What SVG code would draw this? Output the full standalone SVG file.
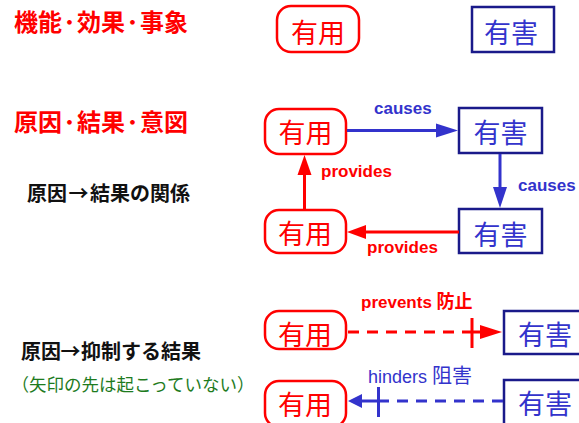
<svg xmlns="http://www.w3.org/2000/svg" width="579" height="423" viewBox="0 0 579 423">
<style>
.h{font-family:"Noto Sans CJK JP","Noto Sans CJK SC",sans-serif;font-weight:bold;font-size:24px;fill:#ff0000}
.b{font-family:"Noto Sans CJK JP","Noto Sans CJK SC",sans-serif;font-weight:bold;fill:#111}
.g{font-family:"Noto Sans CJK JP","Noto Sans CJK SC",sans-serif;font-size:17.5px;fill:#1e7b1e}
.u rect{fill:#fff;stroke:#ff0000;stroke-width:2.5}
.u text{fill:#ff0000}
.x rect{fill:#fff;stroke:#1a1a8a;stroke-width:2.5}
.x text{fill:#3333cc}
.n{font-family:"Noto Sans CJK JP","Noto Sans CJK SC",sans-serif;font-size:27px;text-anchor:middle}
.lb{font-family:"Liberation Sans","Noto Sans CJK JP",sans-serif;font-weight:bold;font-size:17px}
.red{stroke:#ff0000;stroke-width:3;fill:none}
.blu{stroke:#3333cc;stroke-width:3;fill:none}
.dash{stroke-dasharray:11 8}
</style>
<rect width="579" height="423" fill="#fff"/>
<g id="labels">
<text class="h" y="31"><tspan x="14">機能</tspan><tspan x="63.5">･</tspan><tspan x="77">効果</tspan><tspan x="126.5">･</tspan><tspan x="140">事象</tspan></text>
<text class="h" y="131"><tspan x="14">原因</tspan><tspan x="63.5">･</tspan><tspan x="77">結果</tspan><tspan x="126.5">･</tspan><tspan x="140">意図</tspan></text>
<text class="b" y="201" font-size="20"><tspan x="27">原因</tspan><tspan x="78.5" text-anchor="middle">→</tspan><tspan x="90">結果の関係</tspan></text>
<text class="b" y="359" font-size="20"><tspan x="21">原因</tspan><tspan x="70.5" text-anchor="middle">→</tspan><tspan x="81">抑制する結果</tspan></text>
<text class="g" x="11.5" y="391">（矢印の先は起こっていない）</text>
</g>
<g id="n1u" class="u"><rect x="277" y="6" width="82" height="46" rx="14"/><text class="n" x="318" y="43">有用</text></g>
<g id="n1h" class="x"><rect x="472" y="7" width="82" height="45"/><text class="n" x="511" y="42.5">有害</text></g>
<g id="n2u" class="u"><rect x="265" y="109" width="81" height="45" rx="14"/><text class="n" x="305.5" y="143">有用</text></g>
<g id="n2h" class="x"><rect x="459" y="108" width="83" height="45"/><text class="n" x="500.5" y="143">有害</text></g>
<g id="n3u" class="u"><rect x="265" y="210" width="81" height="43" rx="14"/><text class="n" x="305" y="244">有用</text></g>
<g id="n3h" class="x"><rect x="459" y="209" width="83" height="44"/><text class="n" x="500.5" y="244.5">有害</text></g>
<g id="n4u" class="u"><rect x="265" y="311" width="81" height="38" rx="14"/><text class="n" x="305" y="344.5">有用</text></g>
<g id="n4h" class="x"><rect x="504" y="311" width="82" height="43"/><text class="n" x="545" y="345">有害</text></g>
<g id="n5u" class="u"><rect x="265" y="381" width="81" height="46" rx="14"/><text class="n" x="305" y="415">有用</text></g>
<g id="n5h" class="x"><rect x="504" y="380" width="82" height="46"/><text class="n" x="545" y="414">有害</text></g>
<g id="connectors">
<line class="blu" x1="347" y1="130.5" x2="437" y2="130.5"/>
<polygon points="436,123.5 458,130.5 436,137.5" fill="#3333cc"/>
<text class="lb" x="374" y="114" fill="#3333cc">causes</text>
<line class="blu" x1="500" y1="154" x2="500" y2="188"/>
<polygon points="493,187 500,208 507,187" fill="#3333cc"/>
<text class="lb" x="518" y="191" fill="#3333cc">causes</text>
<line class="red" x1="304.5" y1="210" x2="304.5" y2="173"/>
<polygon points="297.5,175 304.5,155 311.5,175" fill="#ff0000"/>
<text class="lb" x="321" y="177" fill="#ff0000">provides</text>
<line class="red" x1="459" y1="232" x2="364" y2="232"/>
<polygon points="366,225 347,232 366,239" fill="#ff0000"/>
<text class="lb" x="367" y="253" fill="#ff0000">provides</text>
<line class="red dash" x1="348" y1="332" x2="472" y2="332"/>
<line class="red" x1="472" y1="318" x2="472" y2="348"/>
<line class="red" x1="472" y1="332" x2="482" y2="332"/>
<polygon points="480,325 502,332 480,339" fill="#ff0000"/>
<text class="lb" x="361" y="308" font-size="16" fill="#ff0000">prevents <tspan font-size="18">防止</tspan></text>
<line class="blu dash" x1="503" y1="401" x2="378" y2="401"/>
<line class="blu" x1="378.5" y1="387" x2="378.5" y2="417"/>
<line class="blu" x1="378" y1="401" x2="360" y2="401"/>
<polygon points="362,394 348,401 362,408" fill="#3333cc"/>
<text x="368" y="383" font-family="Liberation Sans,'Noto Sans CJK JP',sans-serif" font-size="18" fill="#3333cc">hinders <tspan font-size="20" font-family="'Noto Sans CJK JP',sans-serif">阻害</tspan></text>
</g>
</svg>
